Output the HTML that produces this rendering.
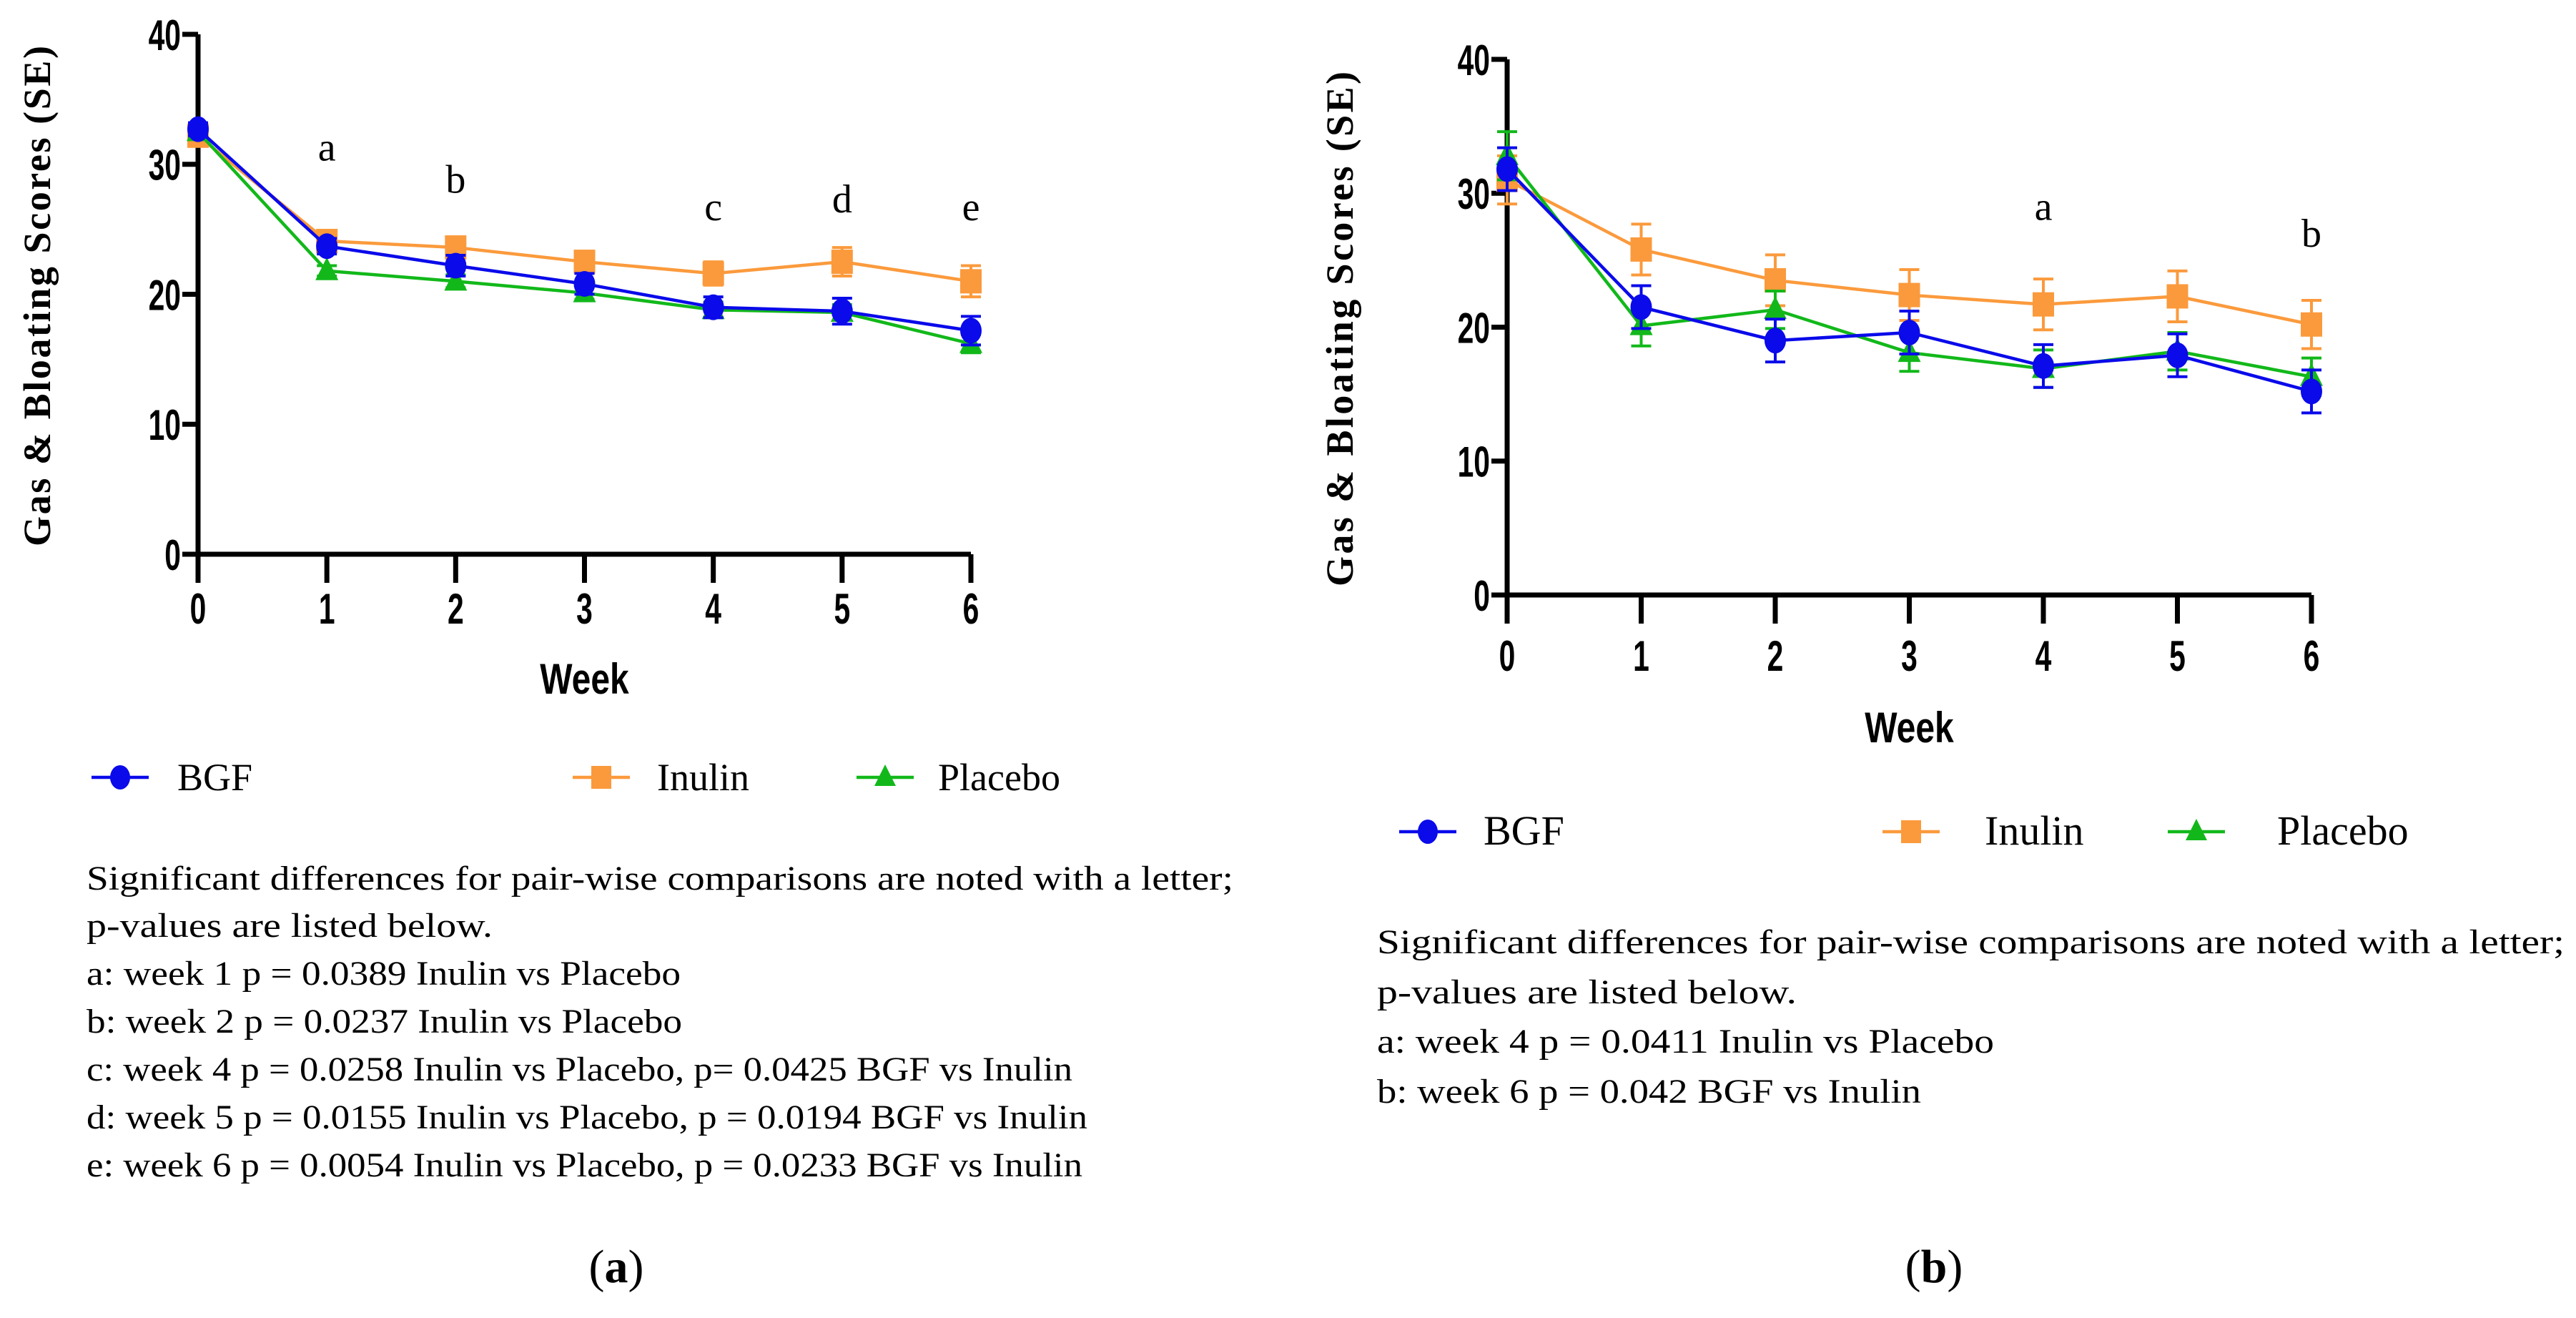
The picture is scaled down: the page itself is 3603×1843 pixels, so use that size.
<!DOCTYPE html>
<html><head><meta charset="utf-8"><style>
html,body{margin:0;padding:0;background:#fff;}
svg{display:block;}
.tick{font-family:"Liberation Sans",sans-serif;font-weight:bold;font-size:60px;}
.ser{font-family:"Liberation Serif",serif;}
</style></head><body>
<svg id="fig" width="3603" height="1843" viewBox="0 0 3603 1843" xmlns="http://www.w3.org/2000/svg">
<g id="pa"></g>
<g id="pb"></g>
</svg>
<script>
const weeks=[0,1,2,3,4,5,6];
const yTicks=[0,10,20,30,40];
const aBGF=[32.7,23.7,22.2,20.8,19.0,18.7,17.2];
const aBGFerr=[0.5,0.6,0.8,0.8,0.8,1.0,1.1];
const aInulin=[32.2,24.1,23.6,22.5,21.6,22.5,21.0];
const aInulinErr=[0.5,0.6,0.7,0.8,0.9,1.1,1.2];
const aPlacebo=[32.5,21.8,21.0,20.1,18.8,18.6,16.2];
const aPlaceboErr=[0.4,0.4,0.5,0.5,0.6,0.6,0.7];
const aLetters=["","a","b","","c","d","e"];
const aLetterY=[0,30.3,27.8,0,25.7,26.3,25.7];
const bBGF=[31.8,21.5,19.0,19.6,17.1,17.9,15.2];
const bBGFerr=[1.6,1.6,1.6,1.6,1.6,1.6,1.6];
const bInulin=[31.0,25.8,23.5,22.4,21.7,22.3,20.2];
const bInulinErr=[1.8,1.9,1.9,1.9,1.9,1.9,1.8];
const bPlacebo=[32.8,20.1,21.3,18.1,16.9,18.2,16.3];
const bPlaceboErr=[1.8,1.5,1.4,1.4,1.4,1.4,1.4];
const bLetters=["","","","","a","","b"];
const bLetterY=[0,0,0,0,28.0,0,26.0];

const NS="http://www.w3.org/2000/svg";
function mk(p,tag,attrs,txt){const e=document.createElementNS(NS,tag);for(const k in attrs)e.setAttribute(k,attrs[k]);if(txt!==undefined)e.textContent=txt;p.appendChild(e);return e;}
const BLUE="#0a0aea",ORANGE="#fb9a3c",GREEN="#12b81a";

function panel(g,cfg){
  const sx=w=>cfg.x0+(cfg.x1-cfg.x0)*w/6;
  const sy=v=>cfg.y0+(cfg.y40-cfg.y0)*v/40;
  const ax=mk(g,'path',{d:`M${cfg.x0},${cfg.y40} V${cfg.y0} H${cfg.x1}`,stroke:'#000','stroke-width':7,fill:'none'});
  
  
  yTicks.forEach(t=>{
    const l=mk(g,'line',{x1:cfg.x0-22,x2:cfg.x0,y1:sy(t),y2:sy(t),stroke:'#000','stroke-width':7});
    
    
    const tx=mk(g,'text',{x:cfg.x0-24,y:sy(t)+22,'text-anchor':'end',class:'tick',transform:`translate(${cfg.x0-24},0) scale(0.68,1) translate(${-(cfg.x0-24)},0)`},t);
    
    
  });
  weeks.forEach(w=>{
    const l=mk(g,'line',{x1:sx(w),x2:sx(w),y1:cfg.y0,y2:cfg.y0+40,stroke:'#000','stroke-width':7});
    
    
    const tx=mk(g,'text',{x:sx(w),y:cfg.tickY,'text-anchor':'middle',class:'tick',transform:`translate(${sx(w)},0) scale(0.68,1) translate(${-sx(w)},0)`},w);
    
    
  });
  const wk=mk(g,'text',{x:sx(3),y:cfg.weekY,'text-anchor':'middle',class:'tick','font-size':66,transform:`translate(${sx(3)},0) scale(0.8,1) translate(${-sx(3)},0)`},'Week');
  
  
  const yt=mk(g,'text',{x:0,y:0,'text-anchor':'middle',class:'ser','font-weight':'bold','font-size':54,textLength:cfg.titleLen,lengthAdjust:'spacing',transform:`translate(${cfg.titleX},${cfg.titleY}) rotate(-90)`},'Gas  &  Bloating Scores  (SE)');
  
  
  const series=[[cfg.inu,cfg.inuE,ORANGE,'inulin'],[cfg.pla,cfg.plaE,GREEN,'placebo'],[cfg.bgf,cfg.bgfE,BLUE,'bgf']];
  series.forEach(([v,e,c,n])=>{
    const sg=mk(g,'g',{});
    
    
    v.forEach((val,i)=>{
      const x=sx(weeks[i]);
      const eb=mk(sg,'path',{d:`M${x},${sy(val-e[i])} V${sy(val+e[i])} M${x-14},${sy(val-e[i])} H${x+14} M${x-14},${sy(val+e[i])} H${x+14}`,stroke:c,'stroke-width':4,fill:'none'});
      
      
    });
    const ln=mk(sg,'polyline',{points:v.map((val,i)=>sx(weeks[i])+','+sy(val)).join(' '),stroke:c,'stroke-width':4.5,fill:'none'});
    
    
    v.forEach((val,i)=>{
      const x=sx(weeks[i]),y=sy(val);let m;
      if(n==='bgf')m=mk(sg,'ellipse',{cx:x,cy:y,rx:15,ry:18,fill:c});
      else if(n==='inulin')m=mk(sg,'rect',{x:x-15,y:y-17,width:30,height:34,fill:c});
      else m=mk(sg,'path',{d:`M${x},${y-19} L${x+16},${y+13} L${x-16},${y+13}Z`,fill:c});
      
      
    });
  });
  cfg.letters.forEach((L,i)=>{
    if(!L)return;
    const t=mk(g,'text',{x:sx(weeks[i]),y:sy(cfg.letterY[i]),'text-anchor':'middle',class:'ser','font-size':56},L);
    
    
  });
  const lg=mk(g,'g',{});
  
  
  cfg.legend.forEach(([mx,tx,c,n,label])=>{
    const eg=mk(lg,'g',{});
    
    
    const y=cfg.legY;
    mk(eg,'line',{x1:mx-40,x2:mx+40,y1:y,y2:y,stroke:c,'stroke-width':4.5});
    if(n==='bgf')mk(eg,'ellipse',{cx:mx,cy:y,rx:14,ry:17,fill:c});
    else if(n==='inulin')mk(eg,'rect',{x:mx-14,y:y-16,width:28,height:32,fill:c});
    else mk(eg,'path',{d:`M${mx},${y-18} L${mx+15},${y+12} L${mx-15},${y+12}Z`,fill:c});
    mk(eg,'text',{x:tx,y:y+18,class:'ser','font-size':cfg.legFs},label);
  });
  const ng=mk(g,'g',{});
  
  
  cfg.notes.forEach(([y,end,txt])=>{
    const t=mk(ng,'text',{x:cfg.noteX,y:y,class:'ser','font-size':48,textLength:end-cfg.noteX,lengthAdjust:'spacingAndGlyphs'},txt);
    
    
  });
  const cap=mk(g,'text',{x:cfg.capX,y:1793,'text-anchor':'middle',class:'ser','font-size':66},'(');
  mk(cap,'tspan',{'font-weight':'bold'},cfg.cap);
  mk(cap,'tspan',{},')');
  
  
}

panel(document.getElementById('pa'),{
  x0:277,x1:1358,y0:775,y40:48,tickY:872,weekY:970,titleX:70,titleY:414,titleLen:700,
  bgf:aBGF,bgfE:aBGFerr,inu:aInulin,inuE:aInulinErr,pla:aPlacebo,plaE:aPlaceboErr,
  letters:aLetters,letterY:aLetterY,legY:1087,legFs:54,
  legend:[[168,248,BLUE,'bgf','BGF'],[841,919,ORANGE,'inulin','Inulin'],[1238,1312,GREEN,'placebo','Placebo']],
  noteX:121,notes:[[1244,1725,'Significant differences for pair-wise comparisons are noted with a letter;'],[1310,689,'p-values are listed below.'],[1377,952,'a: week 1 p = 0.0389 Inulin vs Placebo'],[1444,954,'b: week 2 p = 0.0237 Inulin vs Placebo'],[1511,1500,'c: week 4 p = 0.0258 Inulin vs Placebo, p= 0.0425 BGF vs Inulin'],[1578,1521,'d: week 5 p = 0.0155 Inulin vs Placebo, p = 0.0194 BGF vs Inulin'],[1645,1514,'e: week 6 p = 0.0054 Inulin vs Placebo, p = 0.0233 BGF vs Inulin']],
  capX:862,cap:'a'});
panel(document.getElementById('pb'),{
  x0:2108,x1:3233,y0:832,y40:83,tickY:938,weekY:1038,titleX:1892,titleY:460,titleLen:720,
  bgf:bBGF,bgfE:bBGFerr,inu:bInulin,inuE:bInulinErr,pla:bPlacebo,plaE:bPlaceboErr,
  letters:bLetters,letterY:bLetterY,legY:1163,legFs:58,
  legend:[[1997,2075,BLUE,'bgf','BGF'],[2673,2776,ORANGE,'inulin','Inulin'],[3072,3185,GREEN,'placebo','Placebo']],
  noteX:1926,notes:[[1333,3587,'Significant differences for pair-wise comparisons are noted with a letter;'],[1403,2513,'p-values are listed below.'],[1472,2789,'a: week 4 p = 0.0411 Inulin vs Placebo'],[1542,2687,'b: week 6 p = 0.042 BGF vs Inulin']],
  capX:2705,cap:'b'});
</script>
</body></html>
